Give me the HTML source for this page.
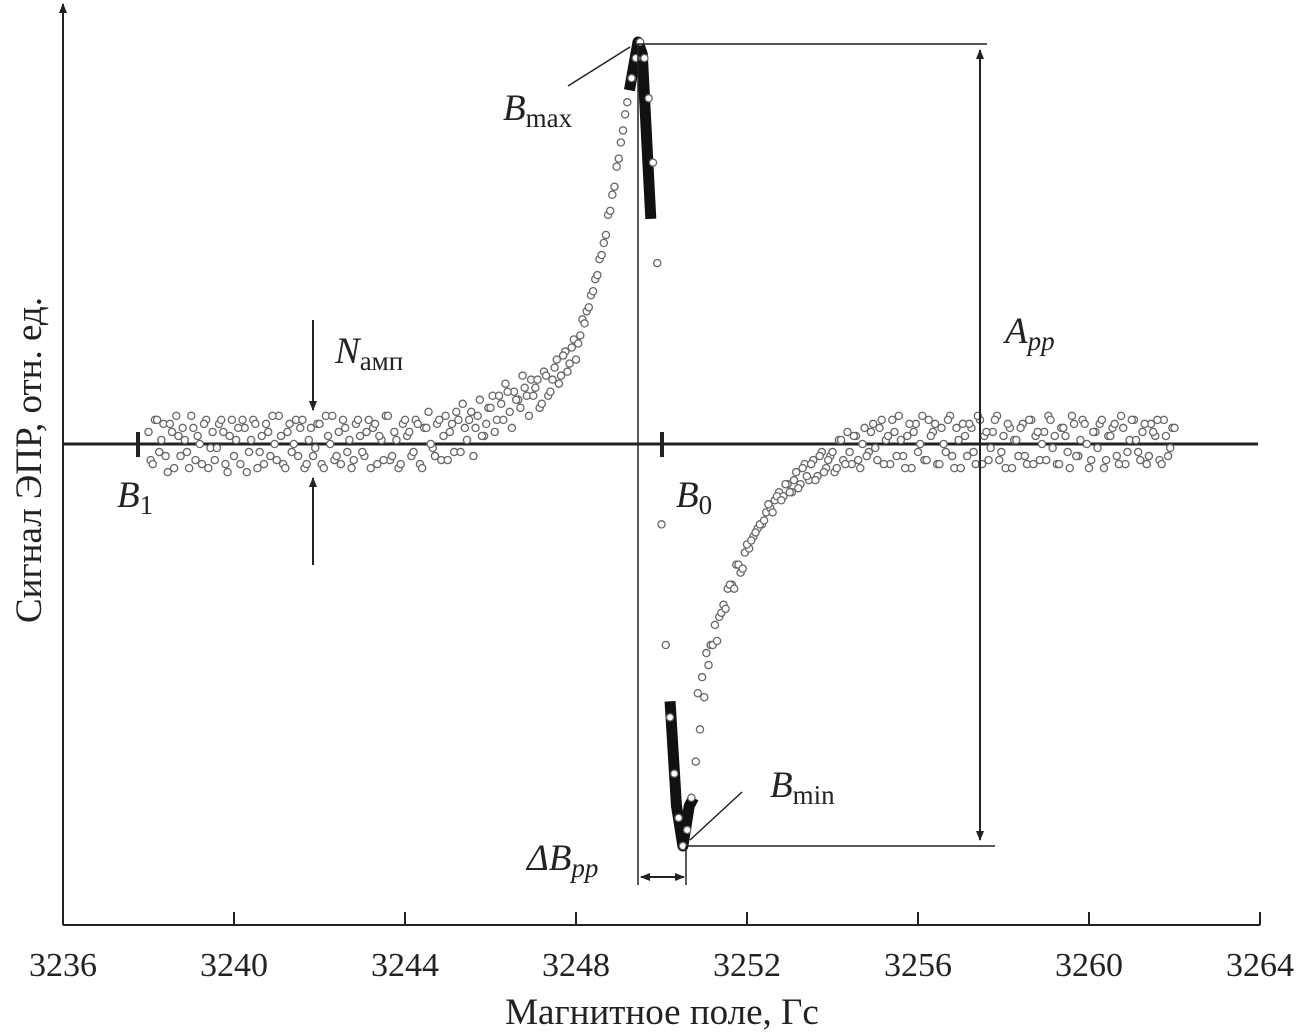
<!DOCTYPE html>
<html><head><meta charset="utf-8"><style>
html,body{margin:0;padding:0;background:#fff}
svg{display:block}
text{font-family:"Liberation Serif",serif;fill:#222}
</style></head><body>
<svg id="chart" width="1303" height="1036" viewBox="0 0 1303 1036" xmlns="http://www.w3.org/2000/svg">
<defs>
<marker id="ah" markerWidth="10" markerHeight="10" refX="9" refY="5" orient="auto" markerUnits="userSpaceOnUse"><path d="M0,1 L10,5 L0,9 Z" fill="#222"/></marker>
<marker id="ahs" markerWidth="10" markerHeight="10" refX="1" refY="5" orient="auto" markerUnits="userSpaceOnUse"><path d="M10,1 L0,5 L10,9 Z" fill="#222"/></marker>
</defs>
<g id="axes"></g>
<g id="marks"></g>
<g id="annot"></g>
</svg>
<script>
const xTicks = [3236,3240,3244,3248,3252,3256,3260,3264];
const fieldStep = 0.1;
const scan1Start = 3238.0;
const scan1 = [
0.03,-0.05,0.06,0.01,-0.03,0.05,-0.06,0.02,0.04,-0.02,
0.07,-0.04,0.00,0.05,-0.06,0.03,-0.01,0.06,-0.05,0.02,
-0.03,0.04,0.06,-0.07,0.01,0.05,-0.02,-0.05,0.03,0.07,
-0.04,0.02,-0.06,0.05,0.00,-0.03,0.06,-0.05,0.04,-0.01,
0.05,-0.06,0.02,0.07,-0.03,-0.05,0.04,0.01,-0.04,0.06,
-0.02,0.03,-0.06,0.05,0.02,-0.04,0.07,-0.03,0.01,-0.05,
0.06,0.03,-0.02,0.05,-0.06,0.04,0.00,-0.03,0.06,0.02,
-0.04,0.05,0.08,-0.02,0.04,0.06,-0.03,0.07,0.02,0.05,
0.09,
0.03,0.12,0.06,0.13,0.04,0.11,0.09,0.14,0.07,0.12,
0.16,0.10,0.17,0.13,0.19,0.15,0.22,0.18,0.24,0.21,
0.27,0.30,0.34,0.38,0.42,0.47,0.52,0.58,0.64,0.71,0.78,0.85,0.91,0.96,1.0,
0.96,0.86,0.70,0.45,-0.20,-0.50,-0.68,-0.82,-0.93,-1.0,-0.96,-0.88,-0.79,-0.71,-0.63,
-0.55,-0.50,-0.49,-0.42,-0.41,-0.35,-0.36,-0.30,-0.31,-0.25,
-0.24,-0.22,-0.20,-0.19,-0.15,-0.17,-0.13,-0.14,-0.10,-0.12,
-0.09,-0.11,-0.06,-0.08,-0.05,-0.09,-0.03,-0.07,-0.04,-0.02,
-0.06,0.01,-0.05,-0.02,0.02,-0.04,0.00,-0.03,0.03,-0.01,
0.04,-0.05,0.02,0.06,-0.03,0.01,-0.06,0.05,0.03,-0.02,
0.07,-0.04,0.02,0.05,-0.05,0.00,0.06,-0.03,0.04,-0.06,
0.02,0.05,-0.02,0.07,-0.05,0.03,-0.01,0.06,-0.04,0.02,
0.05,-0.06,0.01,0.04,-0.03,0.06,-0.05,0.03,0.00,-0.04,
0.06,0.02,-0.05,0.04,-0.02,0.07,-0.03,0.01,0.05,-0.06,
0.03,-0.01,0.06,-0.04,0.02,0.05,-0.05,0.04,-0.02,0.06,
0.01,-0.04,0.05,-0.03,0.03,0.06,-0.05,0.02,-0.01,0.04
];
const scan2aStart = 3238.05;
const scan2a = [
-0.04,0.06,-0.02,0.05,-0.07,0.03,0.07,-0.03,0.01,-0.06,
0.04,0.02,-0.05,0.06,-0.01,-0.04,0.05,0.03,-0.07,0.06,
0.01,-0.05,0.04,-0.02,0.06,-0.06,0.02,0.05,-0.03,0.00,
0.07,-0.05,0.03,-0.02,0.06,0.04,-0.06,0.01,-0.03,0.05,
-0.05,0.07,0.00,-0.04,0.03,0.06,-0.02,-0.06,0.05,0.02,
-0.03,0.06,0.04,-0.05,0.01,0.07,-0.04,0.03,-0.06,0.05,
0.02,-0.03,0.06,-0.05,0.04,0.08,-0.01,0.05,-0.04,0.07,
0.03,-0.02,0.06,0.10,0.01,0.08,0.04,0.11,0.02,0.09,
0.12,0.06,0.10,0.15,0.08,0.13,0.11,0.17,0.12,0.16
];
const scan2dStart = 3247.05;
const scan2d = [0.14,0.09,0.18,0.12,0.16,0.21,0.17,0.23,0.20,0.26,0.25,0.31,0.33,0.37,0.41,0.46,0.50,0.57,0.62,0.69,0.75,0.82];
const scan2cStart = 3250.85;
const scan2c = [-0.62,-0.58,-0.52,-0.50,-0.45,-0.43,-0.40,-0.36,-0.35,-0.30,-0.32,-0.27,-0.26,-0.23,-0.21,-0.20,-0.17,-0.16,-0.14,-0.12,-0.13,-0.10];
const scan2bStart = 3253.05;
const scan2b = [
-0.12,-0.07,-0.10,-0.05,-0.09,-0.04,-0.08,-0.02,-0.06,-0.03,
-0.07,0.01,-0.04,0.03,-0.05,0.02,-0.06,0.04,-0.02,0.05,
-0.04,0.06,0.01,-0.05,0.03,0.07,-0.03,0.02,-0.06,0.05,
0.00,-0.04,0.06,0.03,-0.05,0.04,-0.02,0.07,-0.06,0.01,
0.05,-0.03,0.04,-0.05,0.06,0.02,-0.04,0.03,0.07,-0.02,
-0.06,0.04,0.01,-0.03,0.05,-0.05,0.06,0.02,-0.04,0.03,
0.07,-0.01,-0.05,0.04,0.02,-0.06,0.05,-0.03,0.06,0.00,
-0.04,0.03,0.05,-0.06,0.02,0.04,-0.03,0.07,-0.05,0.01,
0.06,-0.02,0.03,-0.05,0.05,0.02,-0.04,0.06,-0.03,0.04
];
const maxSegment = [[3249.25,0.88],[3249.45,1.0],[3249.55,0.97],[3249.75,0.56]];
const minSegment = [[3250.2,-0.64],[3250.35,-0.9],[3250.5,-1.0],[3250.65,-0.9],[3250.75,-0.88]];

const NS="http://www.w3.org/2000/svg";
const X0=63, X1=1260, AXY=925, BASE=444, YS=402;
const xs = v => X0 + (v-3236)*(X1-X0)/28;
const ys = v => BASE - v*YS;
function mk(tag, attrs, parent){const e=document.createElementNS(NS,tag);for(const k in attrs)e.setAttribute(k,attrs[k]);parent.appendChild(e);return e;}
const axes=document.getElementById('axes'), marks=document.getElementById('marks'), an=document.getElementById('annot');

let e;
e=mk('line',{x1:X0,y1:AXY,x2:X1,y2:AXY,stroke:'#222','stroke-width':2},axes);


e=mk('line',{x1:X0,y1:AXY,x2:X0,y2:4,stroke:'#222','stroke-width':2,'marker-end':'url(#ah)'},axes);


e=mk('line',{x1:X0,y1:BASE,x2:1258,y2:BASE,stroke:'#222','stroke-width':3},axes);


xTicks.forEach(t=>{
  const x=xs(t);
  e=mk('line',{x1:x,y1:AXY,x2:x,y2:AXY-13,stroke:'#222','stroke-width':2},axes);
  
  
  e=mk('text',{x:x,y:976,'text-anchor':'middle','font-size':34},axes);
  e.textContent=t;
  
  
});
e=mk('text',{x:662,y:1024,'text-anchor':'middle','font-size':37},axes);
e.textContent='Магнитное поле, Гс';


e=mk('text',{x:0,y:0,'text-anchor':'middle','font-size':37,transform:'translate(41,460) rotate(-90)'},axes);
e.textContent='Сигнал ЭПР, отн. ед.';



const seg = a => a.map(p=>xs(p[0])+','+ys(p[1])).join(' ');
e=mk('polyline',{points:seg(maxSegment),fill:'none',stroke:'#111','stroke-width':11,'stroke-linejoin':'round'},marks);


e=mk('polyline',{points:seg(minSegment),fill:'none',stroke:'#111','stroke-width':11,'stroke-linejoin':'round'},marks);



function drawScan(start, vals){
  vals.forEach((v,i)=>{
    const f=start+i*fieldStep;
    const c=mk('circle',{cx:xs(f),cy:ys(v),r:3.6,fill:'#fff',stroke:'#666','stroke-width':1.3},marks);
    
    
  });
}
drawScan(scan2aStart, scan2a);
drawScan(scan2dStart, scan2d);
drawScan(scan2cStart, scan2c);
drawScan(scan2bStart, scan2b);
drawScan(scan1Start, scan1);

function line(x1,y1,x2,y2,w,name,extra){
  const a={x1,y1,x2,y2,stroke:'#222','stroke-width':w};Object.assign(a,extra||{});
  const l=mk('line',a,an);
  
  
  return l;
}
line(638,44,638,885,1.5,'bmax-guide');
line(686,846,686,885,1.5,'bmin-guide');
line(638,44,987,44,1.5,'top-guide');
line(686,846,995,846,1.5,'bottom-guide');
line(980,50,980,840,2,'app-arrow',{'marker-end':'url(#ah)','marker-start':'url(#ahs)'});
line(641,877,684,877,2,'dbpp-arrow',{'marker-end':'url(#ah)','marker-start':'url(#ahs)'});
line(313,320,313,410,2,'noise-arrow-down',{'marker-end':'url(#ah)'});
line(313,565,313,478,2,'noise-arrow-up',{'marker-end':'url(#ah)'});
line(138,432,138,457,4,'b1-mark');
line(662,432,662,457,4,'b0-mark');
line(568,86,630,47,1.5,'bmax-leader');
line(742,792,690,840,1.5,'bmin-leader');

function label(x,y,main,sub,name,italicSub){
  const t=mk('text',{x:x,y:y,'font-size':37},an);
  
  
  const a=document.createElementNS(NS,'tspan');a.setAttribute('font-style','italic');a.textContent=main;t.appendChild(a);
  const b=document.createElementNS(NS,'tspan');b.setAttribute('font-size',27);b.setAttribute('dy',7);
  if(italicSub)b.setAttribute('font-style','italic');
  b.textContent=sub;t.appendChild(b);
}
label(503,120,'B','max','bmax-label');
label(770,797,'B','min','bmin-label');
label(527,870,'ΔB','pp','dbpp-label',true);
label(1005,343,'A','pp','app-label',true);
label(335,363,'N','амп','namp-label');
label(117,507,'B','1','b1-label');
label(676,507,'B','0','b0-label');
</script>
</body></html>
